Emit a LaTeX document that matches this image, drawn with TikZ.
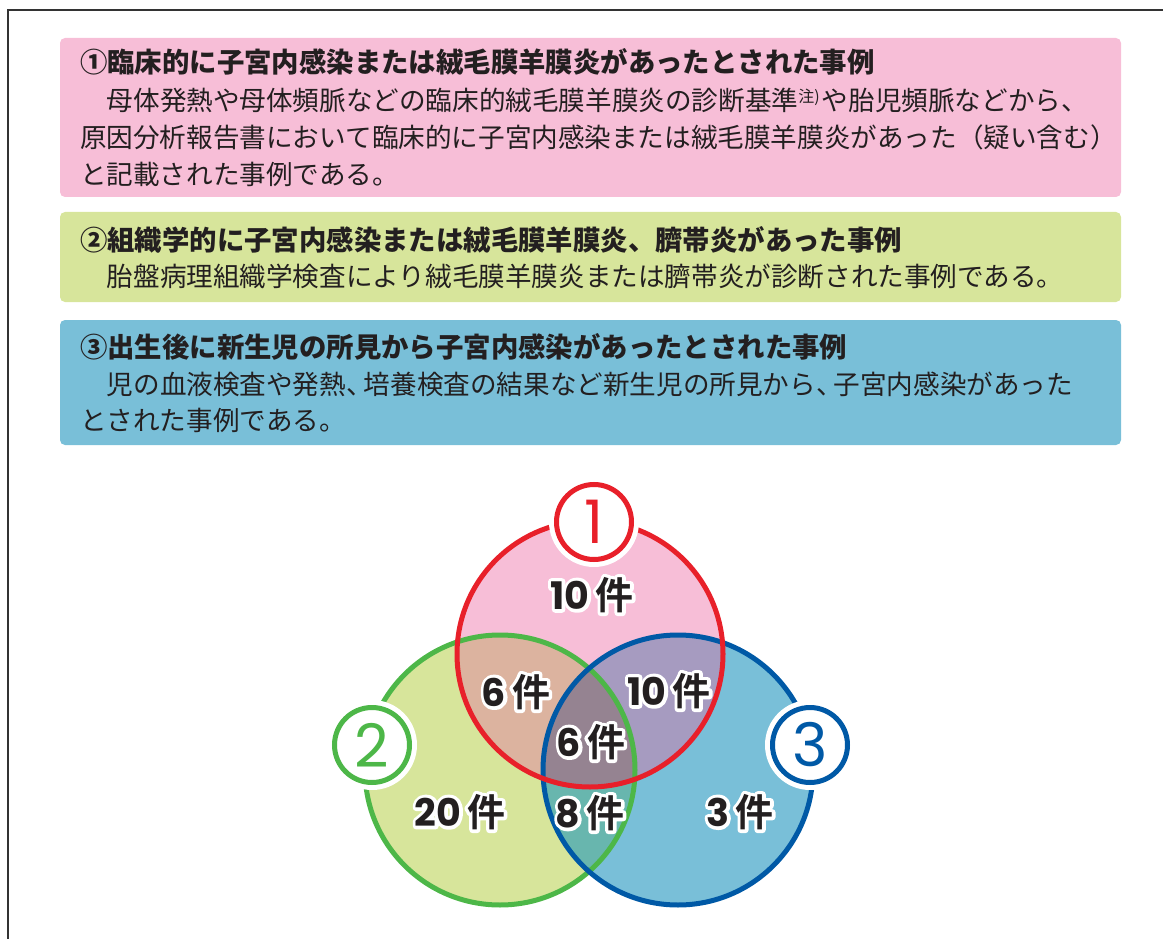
\documentclass[tikz,border=0pt]{standalone}
\usepackage{fontspec}
\newfontfamily\jp{Noto Sans CJK JP}
\newfontfamily\pop{Poppins}
\newfontfamily\popB{Poppins Bold}
\newfontfamily\popW{Poppins Bold}[FakeBold=18]
\newfontfamily\jpB{Noto Sans CJK JP Bold}
\newfontfamily\jpW{Noto Sans CJK JP Bold}[FakeBold=18]
\definecolor{txt}{HTML}{231F20}
\definecolor{pinkF}{HTML}{F7BED7}
\definecolor{greenF}{HTML}{D7E59B}
\definecolor{blueF}{HTML}{79BFD8}
\definecolor{RGc}{HTML}{DCB39F}
\definecolor{RBc}{HTML}{A69BC0}
\definecolor{GBc}{HTML}{68B6AE}
\definecolor{RGBc}{HTML}{958391}
\definecolor{redL}{HTML}{E8202A}
\definecolor{greenL}{HTML}{4DB748}
\definecolor{blueL}{HTML}{0059A6}
\definecolor{frameL}{HTML}{333333}
\newcommand\countlbl[3]{%
  \node[cnt, text=white, line join=round, line cap=round] (#1w) at (#2) {\popW #3\kern6pt\jpW 件};
  \node[cnt] (#1) at (#2) {\popB #3\kern6pt\jpB 件};}
\begin{document}
\begin{tikzpicture}[x=1pt,y=-1pt,
  infobox/.style={rounded corners=5pt},
  headtxt/.style={anchor=base west, inner sep=0pt, text=txt, font=\jp\bfseries\fontsize{27.4}{30}\selectfont},
  bodytxt/.style={anchor=base west, inner sep=0pt, text=txt, font=\jp\fontsize{26.6}{30}\selectfont},
  cnt/.style={inner sep=0pt, text=txt, font=\fontsize{38}{40}\selectfont},
  bigline/.style={line width=5pt},
  numdigit/.style={inner sep=0pt, font=\pop\fontsize{60}{60}\selectfont}
]
\useasboundingbox (0,0) rectangle (1163,939);
% frame
\draw[frameL, line width=1.5pt] (8,939) -- (8,10) -- (1163,10);

% boxes
\fill[pinkF, infobox] (60,38) rectangle (1121,197);
\fill[greenF, infobox] (60,212) rectangle (1121,302);
\fill[blueF, infobox] (60,320) rectangle (1121,445);

\node[headtxt] (h1) at (80,72.4) {①臨床的に子宮内感染または絨毛膜羊膜炎があったとされた事例};
\node[bodytxt] (b1a) at (106.6,111) {母体発熱や母体頻脈などの臨床的絨毛膜羊膜炎の診断基準\raisebox{8pt}{\fontsize{16}{16}\selectfont 注)}\kern2pt や胎児頻脈などから、};
\node[bodytxt] (b1b) at (80,148) {原因分析報告書において臨床的に子宮内感染または絨毛膜羊膜炎があった（疑い含む）};
\node[bodytxt] (b1c) at (80,185) {と記載された事例である。};

\node[headtxt] (h2) at (80,250.4) {②組織学的に子宮内感染または絨毛膜羊膜炎、臍帯炎があった事例};
\node[bodytxt] (b2a) at (106.6,286) {胎盤病理組織学検査により絨毛膜羊膜炎または臍帯炎が診断された事例である。};

\node[headtxt] (h3) at (80,357.4) {③出生後に新生児の所見から子宮内感染があったとされた事例};
\node[bodytxt] (b3a) at (106.6,394) {児の血液検査や発熱、\kern-9pt 培養検査の結果など新生児の所見から、\kern-9pt 子宮内感染があった};
\node[bodytxt] (b3b) at (80,430) {とされた事例である。};

% Venn
\coordinate (cR) at (590,654);
\coordinate (cG) at (500,770);
\coordinate (cB) at (678,770);
\fill[greenF] (cG) circle[radius=135pt];
\fill[blueF] (cB) circle[radius=135pt];
\fill[pinkF] (cR) circle[radius=133pt];
\begin{scope}
  \clip (cG) circle[radius=135pt];
  \fill[GBc] (cB) circle[radius=135pt];
\end{scope}
\begin{scope}
  \clip (cR) circle[radius=133pt];
  \fill[RGc] (cG) circle[radius=135pt];
  \fill[RBc] (cB) circle[radius=135pt];
  \clip (cG) circle[radius=135pt];
  \fill[RGBc] (cB) circle[radius=135pt];
\end{scope}
\draw[greenL, bigline] (cG) circle[radius=135pt];
\draw[blueL, bigline] (cB) circle[radius=135pt];
\draw[redL, bigline] (cR) circle[radius=133pt];

% number badges
\coordinate (n1) at (594,522);
\coordinate (n2) at (372,745);
\coordinate (n3) at (810,745);
\fill[white] (n1) circle[radius=45pt];
\fill[white] (n2) circle[radius=45pt];
\fill[white] (n3) circle[radius=45pt];
\draw[redL, bigline, fill=white] (n1) circle[radius=37.5pt];
\draw[greenL, bigline, fill=white] (n2) circle[radius=37.5pt];
\draw[blueL, bigline, fill=white] (n3) circle[radius=37.5pt];
\node[numdigit, text=redL] (d1) at (n1) {1};
\node[numdigit, text=greenL] (d2) at (n2) {2};
\node[numdigit, text=blueL] (d3) at (n3) {3};

% counts
\countlbl{k1}{592,595}{10}
\countlbl{k2}{516,692}{6}
\countlbl{k3}{669,691}{10}
\countlbl{k4}{591,742}{6}
\countlbl{k5}{460,812}{20}
\countlbl{k6}{590,813}{8}
\countlbl{k7}{740,812}{3}
\end{tikzpicture}
\end{document}
